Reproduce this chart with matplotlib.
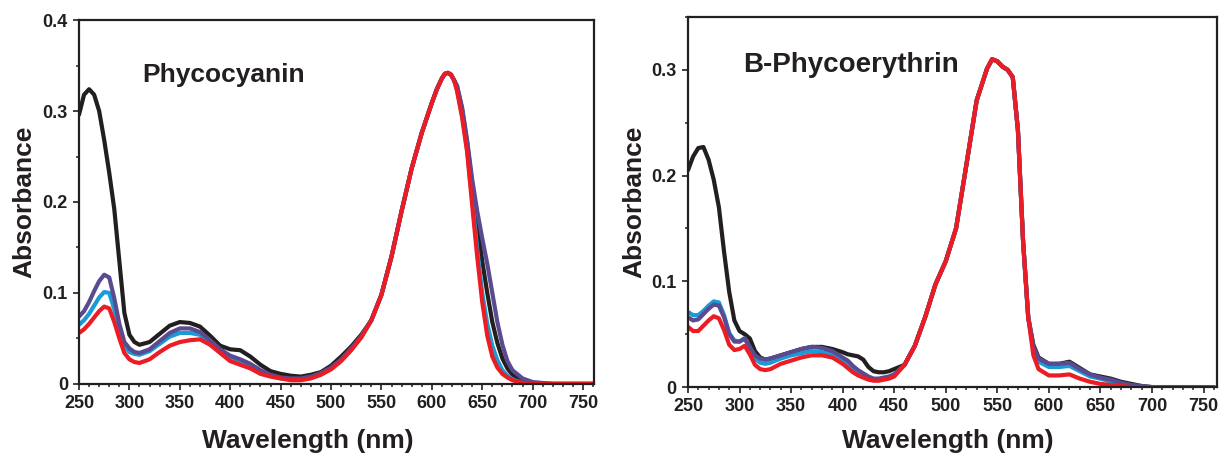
import numpy as np
import matplotlib
matplotlib.use('Agg')
import matplotlib.pyplot as plt
from matplotlib.ticker import MultipleLocator, FuncFormatter

plt.rcParams['font.family'] = ['Liberation Sans', 'DejaVu Sans']
plt.rcParams['font.weight'] = 'bold'

# ---- Phycocyanin panel (left) ----
pc_wl_uv = [250, 255, 260, 265, 270, 275, 280, 285, 290, 295, 300, 305, 310, 320, 330,
            340, 350, 360, 370, 380, 390, 400, 410, 420, 430, 440, 450, 460, 470, 480,
            490, 500, 510, 520, 530]
pc_wl_band = [540, 550, 560, 570, 580, 590, 600, 605, 610, 613, 616, 619, 622]
pc_wl_tail = [625, 630, 635, 640, 645, 650, 655, 660, 665, 670, 675, 680, 690, 700,
              720, 740, 760]

pc_black_uv = [0.296, 0.318, 0.324, 0.318, 0.300, 0.268, 0.232, 0.192, 0.135, 0.078,
               0.054, 0.046, 0.043, 0.046, 0.055, 0.064, 0.068, 0.067, 0.063, 0.053,
               0.042, 0.038, 0.037, 0.030, 0.021, 0.014, 0.011, 0.009, 0.008, 0.010,
               0.013, 0.020, 0.030, 0.041, 0.054]
pc_purple_uv = [0.074, 0.080, 0.090, 0.102, 0.113, 0.120, 0.117, 0.094, 0.066, 0.046,
                0.039, 0.035, 0.034, 0.038, 0.047, 0.056, 0.061, 0.061, 0.057, 0.048,
                0.038, 0.031, 0.027, 0.022, 0.015, 0.010, 0.007, 0.006, 0.006, 0.008,
                0.012, 0.018, 0.027, 0.039, 0.052]
pc_cyan_uv = [0.065, 0.070, 0.077, 0.086, 0.095, 0.101, 0.100, 0.082, 0.060, 0.042,
              0.035, 0.033, 0.032, 0.036, 0.044, 0.052, 0.056, 0.056, 0.054, 0.045,
              0.035, 0.028, 0.024, 0.019, 0.013, 0.009, 0.006, 0.005, 0.005, 0.007,
              0.011, 0.017, 0.026, 0.038, 0.052]
pc_red_uv = [0.056, 0.060, 0.066, 0.073, 0.080, 0.085, 0.083, 0.068, 0.050, 0.034,
             0.027, 0.024, 0.023, 0.027, 0.035, 0.042, 0.046, 0.048, 0.049, 0.043,
             0.034, 0.025, 0.021, 0.017, 0.011, 0.008, 0.006, 0.004, 0.004, 0.006,
             0.010, 0.016, 0.025, 0.037, 0.051]

pc_band = [0.070, 0.098, 0.140, 0.190, 0.237, 0.276, 0.309, 0.324, 0.336, 0.341, 0.342,
           0.340, 0.334]

pc_black_tail = [0.327, 0.302, 0.265, 0.220, 0.175, 0.135, 0.100, 0.068, 0.045, 0.028,
                 0.017, 0.010, 0.003, 0.001, 0.0, 0.0, 0.0]
pc_purple_tail = [0.328, 0.304, 0.268, 0.225, 0.190, 0.160, 0.132, 0.100, 0.068, 0.043,
                  0.025, 0.015, 0.006, 0.002, 0.0, 0.0, 0.0]
pc_cyan_tail = [0.324, 0.296, 0.258, 0.203, 0.148, 0.100, 0.066, 0.042, 0.026, 0.015,
                0.009, 0.005, 0.001, 0.0, 0.0, 0.0, 0.0]
pc_red_tail = [0.322, 0.293, 0.255, 0.197, 0.140, 0.090, 0.053, 0.030, 0.018, 0.011,
               0.007, 0.004, 0.001, 0.0, 0.0, 0.0, 0.0]

# ---- B-Phycoerythrin panel (right) ----
pe_wl_uv = [250, 255, 260, 265, 270, 275, 280, 285, 290, 295, 300, 305, 310, 315, 320,
            325, 330, 340, 350, 360, 370, 380, 390, 400, 405, 410, 415, 420, 425, 430,
            435, 440, 445, 450]
pe_wl_band = [460, 470, 480, 490, 500, 510, 520, 530, 540, 545, 550, 555, 560, 565,
              570, 575, 580]
pe_wl_tail = [585, 590, 600, 610, 620, 630, 640, 650, 660, 670, 680, 690, 700, 720,
              740, 760]

pe_black_uv = [0.205, 0.218, 0.226, 0.227, 0.215, 0.196, 0.170, 0.128, 0.090, 0.063,
               0.053, 0.050, 0.046, 0.034, 0.028, 0.026, 0.027, 0.030, 0.033, 0.036,
               0.038, 0.038, 0.036, 0.033, 0.031, 0.030, 0.029, 0.026, 0.019, 0.015,
               0.014, 0.014, 0.015, 0.017]
pe_purple_uv = [0.066, 0.063, 0.064, 0.069, 0.074, 0.078, 0.077, 0.066, 0.050, 0.043,
                0.043, 0.046, 0.038, 0.030, 0.027, 0.026, 0.027, 0.030, 0.033, 0.036,
                0.038, 0.037, 0.034, 0.028, 0.025, 0.020, 0.016, 0.013, 0.010, 0.008,
                0.008, 0.009, 0.010, 0.012]
pe_cyan_uv = [0.071, 0.068, 0.068, 0.072, 0.077, 0.081, 0.080, 0.068, 0.051, 0.044,
              0.043, 0.046, 0.037, 0.027, 0.023, 0.022, 0.023, 0.027, 0.030, 0.032,
              0.034, 0.033, 0.031, 0.026, 0.022, 0.018, 0.014, 0.011, 0.009, 0.007,
              0.007, 0.008, 0.009, 0.011]
pe_red_uv = [0.057, 0.053, 0.053, 0.058, 0.063, 0.067, 0.065, 0.054, 0.040, 0.035,
             0.036, 0.039, 0.031, 0.021, 0.017, 0.016, 0.017, 0.022, 0.025, 0.028,
             0.030, 0.030, 0.028, 0.022, 0.018, 0.014, 0.011, 0.009, 0.007, 0.006,
             0.006, 0.007, 0.008, 0.010]

pe_band = [0.021, 0.039, 0.066, 0.097, 0.119, 0.150, 0.210, 0.271, 0.301, 0.310, 0.308,
           0.303, 0.300, 0.293, 0.243, 0.138, 0.066]

pe_black_tail = [0.040, 0.028, 0.022, 0.022, 0.024, 0.018, 0.012, 0.010, 0.008, 0.005,
                 0.003, 0.001, 0.0, 0.0, 0.0, 0.0]
pe_purple_tail = [0.038, 0.027, 0.022, 0.022, 0.023, 0.017, 0.012, 0.009, 0.007, 0.004,
                  0.002, 0.001, 0.0, 0.0, 0.0, 0.0]
pe_cyan_tail = [0.036, 0.024, 0.019, 0.019, 0.020, 0.015, 0.010, 0.008, 0.005, 0.003,
                0.001, 0.0, 0.0, 0.0, 0.0, 0.0]
pe_red_tail = [0.030, 0.017, 0.011, 0.011, 0.012, 0.008, 0.005, 0.003, 0.002, 0.001,
               0.0, 0.0, 0.0, 0.0, 0.0, 0.0]

colors = {'black': '#231f20', 'cyan': '#1b9ad6', 'purple': '#5a4a90', 'red': '#ec1c24'}
text_color = '#231f20'

fig = plt.figure(figsize=(12.25, 4.57), dpi=100)
ax1 = fig.add_axes([0.0645, 0.160, 0.4205, 0.796])
ax2 = fig.add_axes([0.5616, 0.153, 0.4318, 0.810])

pc_wl = pc_wl_uv + pc_wl_band + pc_wl_tail
pc_series = [('black', pc_black_uv, pc_black_tail),
             ('cyan', pc_cyan_uv, pc_cyan_tail),
             ('purple', pc_purple_uv, pc_purple_tail),
             ('red', pc_red_uv, pc_red_tail)]
for name, uv, tail in pc_series:
    ax1.plot(pc_wl, uv + pc_band + tail, color=colors[name], lw=3.0,
             solid_joinstyle='round', solid_capstyle='round')

pe_wl = pe_wl_uv + pe_wl_band + pe_wl_tail
pe_series = [('black', pe_black_uv, pe_black_tail),
             ('cyan', pe_cyan_uv, pe_cyan_tail),
             ('purple', pe_purple_uv, pe_purple_tail),
             ('red', pe_red_uv, pe_red_tail)]
for name, uv, tail in pe_series:
    ax2.plot(pe_wl, uv + pe_band + tail, color=colors[name], lw=3.0,
             solid_joinstyle='round', solid_capstyle='round')


def fmt_y(v, pos):
    return '0' if abs(v) < 1e-9 else f'{v:.1f}'


for ax, top, xmax in [(ax1, 0.4, 761), (ax2, 0.35, 763)]:
    ax.set_xlim(250, xmax)
    ax.set_ylim(0, top)
    ax.xaxis.set_major_locator(MultipleLocator(50))
    ax.xaxis.set_minor_locator(MultipleLocator(10))
    ax.yaxis.set_major_locator(MultipleLocator(0.1))
    ax.yaxis.set_minor_locator(MultipleLocator(0.05))
    ax.yaxis.set_major_formatter(FuncFormatter(fmt_y))
    ax.tick_params(which='major', direction='out', length=4.5, width=1.2,
                   labelsize=13, pad=3.5, colors=text_color)
    ax.tick_params(which='minor', direction='out', length=2.5, width=1.1,
                   colors=text_color)
    for s in ax.spines.values():
        s.set_linewidth(1.6)
        s.set_color(text_color)
    ax.set_xlabel('Wavelength (nm)', fontsize=19, fontweight='bold',
                  color=text_color, va='baseline')
    ax.set_ylabel('Absorbance', fontsize=19, fontweight='bold', color=text_color)

ax1.xaxis.set_label_coords(0.444, -0.176)
ax2.xaxis.set_label_coords(0.4905, -0.165)
ax1.yaxis.set_label_coords(-0.082, 0.5)
ax2.yaxis.set_label_coords(-0.079, 0.5)

ax1.text(0.122, 0.830, 'Phycocyanin', transform=ax1.transAxes, fontsize=19,
         fontweight='bold', color=text_color, va='baseline', ha='left')
ax2.text(0.104, 0.852, 'B-Phycoerythrin', transform=ax2.transAxes, fontsize=20,
         fontweight='bold', color=text_color, va='baseline', ha='left')

fig.savefig('out.png', dpi=100)
